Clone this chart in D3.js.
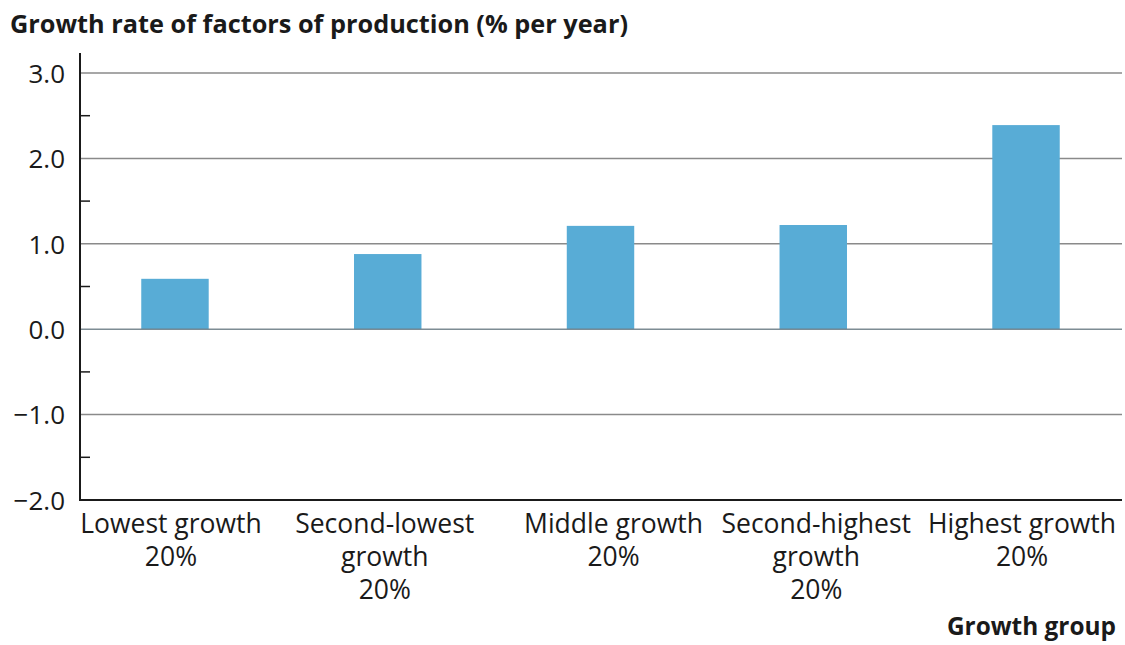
<!DOCTYPE html>
<html>
<head>
<meta charset="utf-8">
<script src="https://cdn.jsdelivr.net/npm/d3@7"></script>
<style>
  html, body { margin: 0; padding: 0; background: #fff; }
  svg { display: block; font-family: "Open Sans", "Noto Sans", sans-serif; }
</style>
</head>
<body>
<svg id="chart" width="1125" height="645"></svg>
<script>
const categories = [
  ["Lowest growth", "20%"],
  ["Second-lowest", "growth", "20%"],
  ["Middle growth", "20%"],
  ["Second-highest", "growth", "20%"],
  ["Highest growth", "20%"]
];
const values = [0.59, 0.88, 1.21, 1.22, 2.39];
const majorTicks = [-2, -1, 0, 1, 2, 3];
const minorTicks = [-1.5, -0.5, 0.5, 1.5, 2.5];
const titleText = "Growth rate of factors of production (% per year)";
const xTitleText = "Growth group";

// layout: horizontal nudge of each category label relative to its bar centre
const labelNudge = [-4, -3, 13, 3, -4];

const svg = d3.select("#chart");
const plotLeft = 80, plotRight = 1122, plotTop = 73, plotBottom = 500;

const x = d3.scaleBand()
  .domain(categories.map((d, i) => i))
  .range([68.6, 1132.4])
  .paddingInner(0.683)
  .paddingOuter(0.3415);

const y = d3.scaleLinear().domain([-2, 3]).range([plotBottom, plotTop]);

// gridlines (except 0, drawn on top of bars)
svg.append("g").selectAll("line")
  .data(majorTicks.filter(t => t !== -2 && t !== 0))
  .join("line")
  .attr("x1", plotLeft).attr("x2", plotRight)
  .attr("y1", d => y(d)).attr("y2", d => y(d))
  .attr("stroke", "#8a8a8a").attr("stroke-width", 1.5);

// bars
svg.append("g").selectAll("rect")
  .data(values)
  .join("rect")
  .attr("x", (d, i) => x(i))
  .attr("width", x.bandwidth())
  .attr("y", d => y(Math.max(0, d)))
  .attr("height", d => Math.abs(y(d) - y(0)))
  .attr("fill", "#58acd6");

// zero line on top
svg.append("line")
  .attr("x1", plotLeft).attr("x2", plotRight)
  .attr("y1", y(0)).attr("y2", y(0))
  .attr("stroke", "#6f7f88").attr("stroke-width", 1.5)
  .attr("stroke-opacity", 0.9);

// y axis
const yAxis = d3.axisLeft(y).tickValues(majorTicks).tickSize(0).tickPadding(15)
  .tickFormat(d => (d < 0 ? "\u2212" : "") + Math.abs(d).toFixed(1));
const gy = svg.append("g").attr("transform", `translate(${plotLeft},0)`).call(yAxis);
gy.select(".domain").remove();
gy.selectAll("text").attr("font-size", 26).attr("fill", "#1a1a1a")
  .attr("font-family", "'Open Sans', sans-serif").attr("dy", "0.36em");

// y axis line
svg.append("line")
  .attr("x1", plotLeft).attr("x2", plotLeft)
  .attr("y1", 53).attr("y2", plotBottom + 1)
  .attr("stroke", "#1a1a1a").attr("stroke-width", 2);

// minor ticks
svg.append("g").selectAll("line")
  .data(minorTicks)
  .join("line")
  .attr("x1", plotLeft).attr("x2", plotLeft + 10)
  .attr("y1", d => y(d)).attr("y2", d => y(d))
  .attr("stroke", "#1a1a1a").attr("stroke-width", 1.5);

// x axis line
svg.append("line")
  .attr("x1", plotLeft - 1).attr("x2", plotRight)
  .attr("y1", plotBottom).attr("y2", plotBottom)
  .attr("stroke", "#1a1a1a").attr("stroke-width", 2.2);

// x labels
const xl = svg.append("g").selectAll("text")
  .data(categories)
  .join("text")
  .attr("x", (d, i) => x(i) + x.bandwidth() / 2 + labelNudge[i])
  .attr("y", 533)
  .attr("text-anchor", "middle")
  .attr("font-size", 26.5)
  .attr("fill", "#1a1a1a");
xl.selectAll("tspan")
  .data(d => d)
  .join("tspan")
  .attr("x", function() { return this.parentNode.getAttribute("x"); })
  .attr("dy", (d, i) => i === 0 ? 0 : 33)
  .text(d => d);

// title
svg.append("text")
  .attr("x", 10).attr("y", 33)
  .attr("font-size", 25.3).attr("font-weight", "bold")
  .attr("fill", "#1a1a1a")
  .text(titleText);

// x axis title
svg.append("text")
  .attr("x", 1116).attr("y", 635)
  .attr("text-anchor", "end")
  .attr("font-size", 24.4).attr("font-weight", "bold")
  .attr("fill", "#1a1a1a")
  .text(xTitleText);
</script>
</body>
</html>
